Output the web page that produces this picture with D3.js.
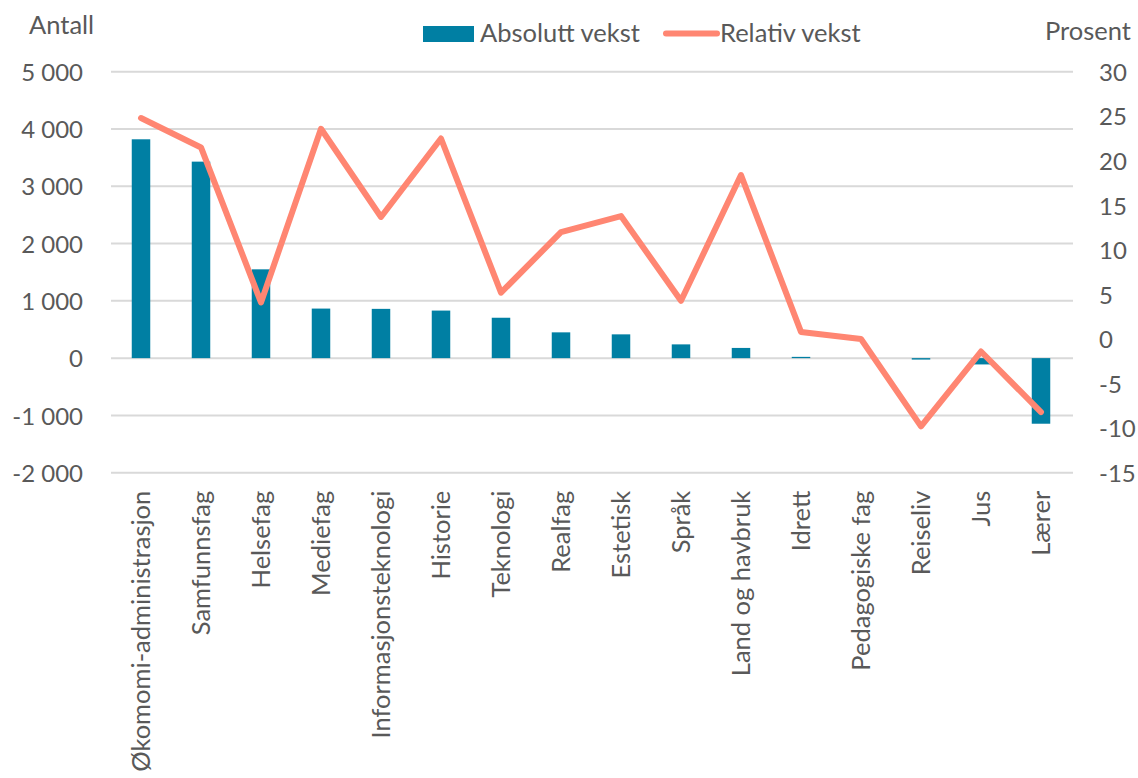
<!DOCTYPE html>
<html><head><meta charset="utf-8">
<script src="https://cdn.jsdelivr.net/npm/d3@7"></script>
<style>
html,body{margin:0;padding:0;background:#fff;}
text{font-family:Lato, "Open Sans", sans-serif;fill:#595959;}
</style></head>
<body><svg id="c" width="1138" height="778"></svg>
<script>
const categories = ["Økomomi-administrasjon","Samfunnsfag","Helsefag","Mediefag","Informasjonsteknologi","Historie","Teknologi","Realfag","Estetisk","Språk","Land og havbruk","Idrett","Pedagogiske fag","Reiseliv","Jus","Lærer"];
const absoluttVekst = [3820, 3430, 1550, 865, 860, 830, 705, 450, 415, 240, 178, 22, 0, -25, -110, -1145];
const relativVekst = [24.8, 21.5, 4.1, 23.6, 13.7, 22.5, 5.2, 12.0, 13.8, 4.3, 18.4, 0.8, 0.0, -9.8, -1.4, -8.2];
const leftTicks = [-2000, -1000, 0, 1000, 2000, 3000, 4000, 5000];
const rightTicks = [-15, -10, -5, 0, 5, 10, 15, 20, 25, 30];

const svg = d3.select("#c");
const FS = 25.5, FT = 24;
const x0 = 111, x1 = 1071, yTop = 71.7, yBot = 472.7;
const x = d3.scaleBand().domain(categories).range([x0, x1]).paddingInner(0).paddingOuter(0);
const yL = d3.scaleLinear().domain([-2000, 5000]).range([yBot, yTop]);
const yR = d3.scaleLinear().domain([-15, 30]).range([yBot, yTop]);
const loc = d3.formatLocale({decimal: ",", thousands: "\u00a0", grouping: [3], currency: ["", ""], minus: "-"});
const fmtL = loc.format(",d");

// gridlines
svg.append("g").selectAll("line").data(leftTicks).join("line")
  .attr("x1", x0).attr("x2", 1073)
  .attr("y1", d => yL(d)).attr("y2", d => yL(d))
  .attr("stroke", "#d9d9d9").attr("stroke-width", 2);

// bars
const bw = 18.5;
svg.append("g").selectAll("rect").data(categories).join("rect")
  .attr("x", d => x(d) + x.bandwidth()/2 - bw/2)
  .attr("width", bw)
  .attr("y", (d,i) => Math.min(yL(absoluttVekst[i]), yL(0)))
  .attr("height", (d,i) => Math.abs(yL(absoluttVekst[i]) - yL(0)))
  .attr("fill", "#007fa3");

// line
const line = d3.line().x((d,i) => x(categories[i]) + x.bandwidth()/2).y(d => yR(d));
svg.append("path").datum(relativVekst).attr("d", line)
  .attr("fill", "none").attr("stroke", "#ff8672").attr("stroke-width", 6)
  .attr("stroke-linejoin", "round").attr("stroke-linecap", "round");

// left axis
const gl = svg.append("g").attr("transform", "translate(83,0)")
  .call(d3.axisLeft(yL).tickValues(leftTicks).tickFormat(fmtL).tickSize(0).tickPadding(0));
gl.select(".domain").remove();
gl.selectAll("text").attr("font-size", FT).attr("font-family", "Lato").attr("fill", "#595959").attr("dy", "0.36em");

// right axis
const gr = svg.append("g").attr("transform", "translate(1099,0)")
  .call(d3.axisRight(yR).tickValues(rightTicks).tickFormat(d => String(d)).tickSize(0).tickPadding(0));
gr.select(".domain").remove();
gr.selectAll("text").attr("font-size", FT).attr("font-family", "Lato").attr("fill", "#595959").attr("dy", "0.36em");

// x labels
const gx = svg.append("g").attr("transform", `translate(0,${yBot})`)
  .call(d3.axisBottom(x).tickSize(0).tickPadding(0));
gx.select(".domain").remove();
gx.selectAll("text")
  .attr("font-size", FS).attr("font-family", "Lato").attr("fill", "#595959")
  .attr("text-anchor", "end")
  .attr("transform", "rotate(-90)")
  .attr("x", -18).attr("y", 0).attr("dy", "0.36em");

// axis titles
svg.append("text").attr("x", 29).attr("y", 34).attr("font-size", FS).text("Antall");
svg.append("text").attr("x", 1045).attr("y", 40).attr("font-size", FS).text("Prosent");

// legend
svg.append("rect").attr("x", 423).attr("y", 26).attr("width", 51).attr("height", 16).attr("fill", "#007fa3");
svg.append("text").attr("x", 480).attr("y", 42).attr("font-size", FS).text("Absolutt vekst");
svg.append("line").attr("x1", 666).attr("x2", 717).attr("y1", 33.5).attr("y2", 33.5)
  .attr("stroke", "#ff8672").attr("stroke-width", 6).attr("stroke-linecap", "round");
svg.append("text").attr("x", 720).attr("y", 42).attr("font-size", FS).text("Relativ vekst");
</script></body></html>
